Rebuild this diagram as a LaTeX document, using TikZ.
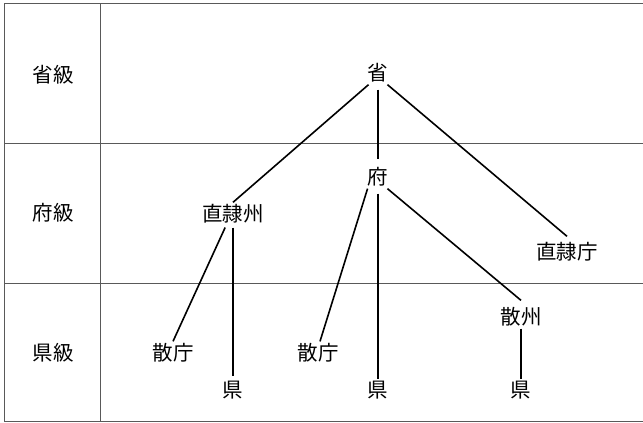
\documentclass[tikz,border=0pt]{standalone}
\usepackage{fontspec}
\newfontfamily\jpfont{Noto Sans CJK JP}
\begin{document}
\begin{tikzpicture}[x=1pt,y=-1pt,
  unit/.style={font=\jpfont\fontsize{20.5}{24}\selectfont,inner sep=2pt},
  link/.style={line width=1.6pt},
  rule/.style={line width=.9pt,black!65}]
\useasboundingbox (0,0) rectangle (643,423);
% table
\draw[rule] (4,3)--(643,3) (4,3)--(4,421)--(643,421);
\draw[rule] (4,143)--(643,143) (4,283)--(643,283);
\draw[rule] (100,3)--(100,421);
% levels
\node[unit] (lvsheng) at (53,75) {省級};
\node[unit] (lvfu) at (53,213) {府級};
\node[unit] (lvxian) at (53,353) {県級};
% units
\node[unit] (sheng) at (378,73) {省};
\node[unit] (fu) at (378,177) {府};
\node[unit] (zlz) at (233,214) {直隷州};
\node[unit] (zlt) at (567,252) {直隷庁};
\node[unit] (sz) at (521,317) {散州};
\node[unit] (st1) at (173,353) {散庁};
\node[unit] (st2) at (318,353) {散庁};
\node[unit] (xian1) at (233,390) {県};
\node[unit] (xian2) at (378,390) {県};
\node[unit] (xian3) at (521,390) {県};
% links
\draw[link] ([xshift=3pt]sheng.south west)--(zlz.north);
\draw[link,shorten <=5pt,shorten >=6pt] (sheng.south)--(fu.north);
\draw[link] ([xshift=-3pt]sheng.south east)--([yshift=4pt]zlt.north);
\draw[link] ([xshift=2pt]fu.south west)--([xshift=2pt]st2.north);
\draw[link,shorten <=5pt] (fu.south)--(xian2.north);
\draw[link] ([xshift=-3pt]fu.south east)--([yshift=5pt]sz.north);
\draw[link,shorten <=2pt] ([xshift=-7pt]zlz.south)--(st1.north);
\draw[link,shorten <=2pt] (zlz.south)--([yshift=3pt]xian1.north);
\draw[link] (sz.south)--(xian3.north);
\end{tikzpicture}
\end{document}
